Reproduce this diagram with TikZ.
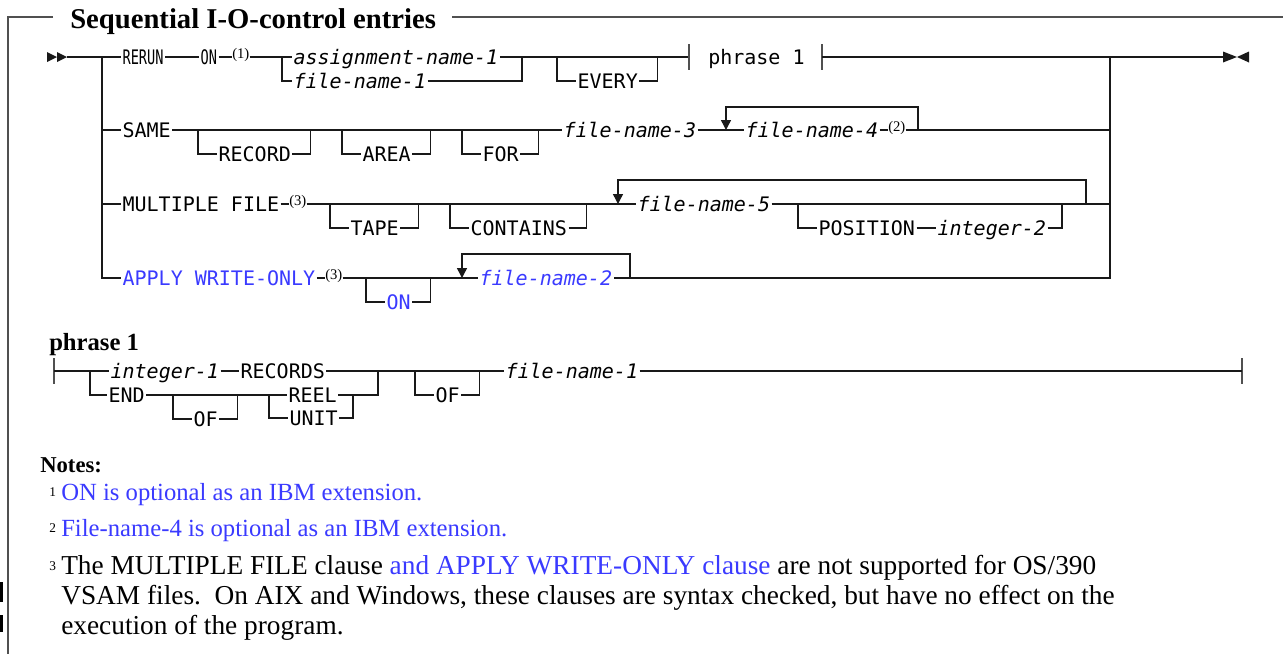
\documentclass[tikz,border=0pt]{standalone}
\usepackage{fontspec}
\setmainfont{Liberation Serif}
\setmonofont{DejaVu Sans Mono}
\usepackage{graphicx}
\usepackage{tikz}
\usetikzlibrary{%
	calc,%
	arrows.meta,%
	positioning,%
}
\definecolor{clink}{RGB}{58, 58, 255}
\definecolor{crail}{RGB}{25, 25, 25}
\definecolor{cframe}{RGB}{80, 80, 80}
\newcommand{\varname}[1]{\textit{#1}}
\newcommand{\narrowname}[1]{\scalebox{0.68}[1]{#1}}
\tikzset{
	>={Triangle[length=7.5pt,width=7.5pt]},%
	rail/.style={%
			draw=crail,%
			line width=1.1pt},%
	railbar/.style={%
			draw=cframe,%
			line width=1.6pt},%
	frameline/.style={%
			draw=cframe,%
			line width=1.6pt},%
	kwnode/.style={%
			font=\ttfamily\fontsize{15}{18}\selectfont,%
			inner xsep=1pt,%
			inner ysep=0pt,%
			text height=11pt,%
			text depth=0pt,%
			anchor=west},%
	supnode/.style={%
			font=\fontsize{11}{13}\selectfont,%
			inner xsep=0pt,%
			inner ysep=0pt,%
			text height=1.5pt,%
			text depth=0pt,%
			anchor=west},%
	headnode/.style={%
			font=\fontsize{18.5}{22}\selectfont\bfseries,%
			inner sep=0pt,%
			anchor=base west},%
	notenode/.style={%
			font=\fontsize{18.5}{22}\selectfont,%
			inner sep=0pt,%
			anchor=base west},%
	longnotenode/.style={%
			font=\fontsize{20.5}{24}\selectfont,%
			inner sep=0pt,%
			anchor=base west},%
	marknode/.style={%
			font=\fontsize{10}{12}\selectfont,%
			inner sep=0pt,%
			anchor=base west},%
}
% optional item hanging below the main line
\newcommand{\optbranch}[5][]{%
	\node[kwnode, #1] (#2) at (#3+19,#4+24) {#5};
	\draw[rail] (#3,#4) |- (#2.west) (#2.east) -| ($(#2.east)+(18,-24)$);
}

\begin{document}
\begin{tikzpicture}[x=0.75pt, y=-0.75pt]
	\useasboundingbox (0,0) rectangle (1283,654);

	% frame and title
	\node[headnode, font=\fontsize{21.5}{25}\selectfont\bfseries] (title) at (70,28) {Sequential I-O-control entries};
	\draw[frameline] (53,17) -- (8,17) -- (8,654);
	\draw[frameline] (452,17) -- (1283,17);
	\draw[frameline, draw=black] (1.5,582) -- (1.5,602);
	\draw[frameline, draw=black] (1.5,615) -- (1.5,632);

	% main line: RERUN
	\fill[crail] (47,52) -- (57,57) -- (47,62) -- cycle;
	\fill[crail] (57,52) -- (67,57) -- (57,62) -- cycle;
	\coordinate (start) at (67,57);
	\coordinate (bl) at (102,57);
	\coordinate (br) at (1110,57);
	\node[kwnode] (rerun) at (121,57) {\narrowname{RERUN}};
	\node[kwnode] (on1) at (199,57) {\narrowname{ON}};
	\node[supnode] (sup1) at (232,57) {(1)};
	\coordinate (c1l) at (282,57);
	\node[kwnode] (assign1) at (292,57) {\varname{assignment-name-1}};
	\node[kwnode] (file1) at (292,81) {\varname{file-name-1}};
	\coordinate (c1r) at (522,57);
	\optbranch{every}{557}{57}{EVERY}
	\coordinate (phrl) at (689,57);
	\node[kwnode, inner xsep=0pt] (phr) at (708,57) {phrase 1};
	\coordinate (phrr) at (822,57);
	\coordinate (endtip) at (1237,57);

	\draw[rail] (start) -- (rerun.west) (rerun.east) -- (on1.west) (on1.east) -- (sup1.west) (sup1.east) -- (assign1.west);
	\draw[rail] (c1l) |- (file1.west) (file1.east) -| (c1r);
	\draw[rail] (assign1.east) -- (phrl);
	\draw[railbar] ($(phrl)+(0,-13)$) -- ($(phrl)+(0,13)$);
	\draw[railbar] ($(phrr)+(0,-13)$) -- ($(phrr)+(0,13)$);
	\draw[rail] (phrr) -- (br) -- ($(endtip)+(-13,0)$);
	\fill[crail] (1223,51.5) -- (endtip) -- (1223,62.5) -- cycle;
	\fill[crail] (1249,51.5) -- (endtip) -- (1249,62.5) -- cycle;

	% SAME
	\node[kwnode] (same) at (121,130) {SAME};
	\optbranch{record}{198}{130}{RECORD}
	\optbranch{area}{342}{130}{AREA}
	\optbranch{for}{462}{130}{FOR}
	\node[kwnode] (file3) at (562,130) {\varname{file-name-3}};
	\coordinate (l2l) at (726,130);
	\coordinate (l2r) at (918,130);
	\node[kwnode] (file4) at (744,130) {\varname{file-name-4}};
	\node[supnode] (sup2) at (888,130) {(2)};
	\draw[rail] (bl |- same.west) -- (same.west) (same.east) -- (file3.west) (file3.east) -- (file4.west);
	\draw[rail] (file4.east) -- (sup2.west) (sup2.east) -- (br |- sup2.east);
	\draw[rail, ->] (l2r) -- ++(0,-23) -| (l2l);

	% MULTIPLE FILE
	\node[kwnode] (multiple) at (121,204) {MULTIPLE FILE};
	\node[supnode] (sup3a) at (289,204) {(3)};
	\optbranch{tape}{330}{204}{TAPE}
	\optbranch{contains}{450}{204}{CONTAINS}
	\coordinate (l3l) at (618,204);
	\coordinate (l3r) at (1086,204);
	\node[kwnode] (file5) at (636,204) {\varname{file-name-5}};
	\node[kwnode] (position) at (817,228) {POSITION};
	\node[kwnode] (int2) at (936,228) {\varname{integer-2}};
	\draw[rail] (bl |- multiple.west) -- (multiple.west) (multiple.east) -- (sup3a.west) (sup3a.east) -- (file5.west);
	\draw[rail] (file5.east) -- (br |- file5.east);
	\draw[rail] (798,204) |- (position.west) (position.east) -- (int2.west) (int2.east) -| (1062,204);
	\draw[rail, ->] (l3r) -- ++(0,-24) -| (l3l);

	% APPLY WRITE-ONLY
	\node[kwnode, text=clink] (apply) at (121,278) {APPLY WRITE-ONLY};
	\node[supnode] (sup3b) at (325,278) {(3)};
	\optbranch[text=clink]{on2}{366}{278}{ON}
	\coordinate (l4l) at (462,278);
	\coordinate (l4r) at (630,278);
	\node[kwnode, text=clink] (file2) at (478,278) {\varname{file-name-2}};
	\draw[rail] (bl) |- (apply.west) (apply.east) -- (sup3b.west) (sup3b.east) -- (file2.west);
	\draw[rail] (br) |- (file2.east);
	\draw[rail, ->] (l4r) -- ++(0,-24) -| (l4l);

	% phrase 1
	\node[headnode] (phrhead) at (49,350) {phrase 1};
	\coordinate (p1start) at (54,371);
	\coordinate (p1bl) at (90,371);
	\coordinate (p1br) at (378,371);
	\coordinate (p1end) at (1242,371);
	\node[kwnode] (int1) at (109,371) {\varname{integer-1}};
	\node[kwnode] (records) at (239,371) {RECORDS};
	\node[kwnode] (endkw) at (107,395) {END};
	\optbranch{of1}{173}{395}{OF}
	\coordinate (rcl) at (269,395);
	\coordinate (rcr) at (353,395);
	\node[kwnode] (reel) at (287,395) {REEL};
	\node[kwnode] (unit) at (288,418) {UNIT};
	\optbranch{of2}{415}{371}{OF}
	\node[kwnode] (file1b) at (504,371) {\varname{file-name-1}};
	\draw[railbar] ($(p1start)+(0,-13)$) -- ($(p1start)+(0,13)$);
	\draw[railbar] ($(p1end)+(0,-13)$) -- ($(p1end)+(0,13)$);
	\draw[rail] (p1start) -- (int1.west) (int1.east) -- (records.west) (records.east) -- (file1b.west) (file1b.east) -- (p1end);
	\draw[rail] (p1bl) |- (endkw.west) (endkw.east) -- (reel.west) (reel.east) -| (p1br);
	\draw[rail] (rcl) |- (unit.west) (unit.east) -| (rcr);

	% notes
	\node[headnode, font=\fontsize{17}{20}\selectfont\bfseries] (noteshead) at (40,472) {Notes:};
	\node[marknode] (m1) at (49,496) {1};
	\node[notenode, text=clink] (n1) at (61,500) {ON is optional as an IBM extension.};
	\node[marknode] (m2) at (49,532) {2};
	\node[notenode, text=clink] (n2) at (61,536) {File-name-4 is optional as an IBM extension.};
	\node[marknode] (m3) at (49,570) {3};
	\node[longnotenode] (n3a) at (61,574) {The MULTIPLE FILE clause \textcolor{clink}{and APPLY WRITE-ONLY clause} are not supported for OS/390};
	\node[longnotenode] (n3b) at (61,604) {VSAM files.\ \ On AIX and Windows, these clauses are syntax checked, but have no effect on the};
	\node[longnotenode] (n3c) at (61,634) {execution of the program.};
\end{tikzpicture}
\end{document}
